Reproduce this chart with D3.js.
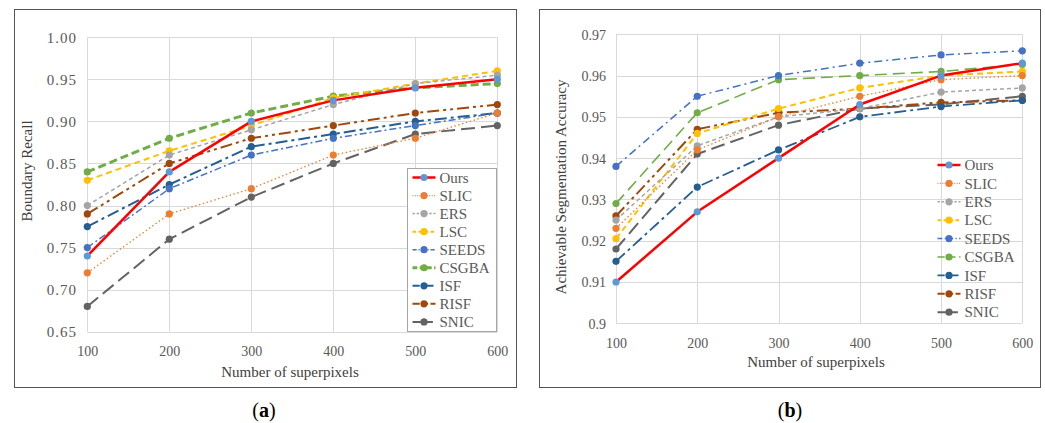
<!DOCTYPE html>
<html><head><meta charset="utf-8">
<script src="https://cdn.jsdelivr.net/npm/d3@7"></script>
<style>
body{margin:0;background:#fff;}
text{font-family:"Liberation Serif","Times New Roman",serif;}
</style></head>
<body>
<svg id="c" width="1045" height="423"></svg>
<script>
const xValues = [100, 200, 300, 400, 500, 600];
const seriesNames = ["Ours","SLIC","ERS","LSC","SEEDS","CSGBA","ISF","RISF","SNIC"];
const leftTicks = [0.65,0.70,0.75,0.80,0.85,0.90,0.95,1.00];
const rightTicks = [0.90,0.91,0.92,0.93,0.94,0.95,0.96,0.97];
const rightTickLabels = ["0.9","0.91","0.92","0.93","0.94","0.95","0.96","0.97"];

// (a) Boundary Recall
const brOurs  = [0.740,0.840,0.900,0.925,0.940,0.950];
const brSLIC  = [0.720,0.790,0.820,0.860,0.880,0.910];
const brERS   = [0.800,0.860,0.890,0.920,0.945,0.955];
const brLSC   = [0.830,0.865,0.895,0.928,0.945,0.960];
const brSEEDS = [0.750,0.820,0.860,0.880,0.895,0.910];
const brCSGBA = [0.840,0.880,0.910,0.930,0.940,0.945];
const brISF   = [0.775,0.825,0.870,0.885,0.900,0.910];
const brRISF  = [0.790,0.850,0.880,0.895,0.910,0.920];
const brSNIC  = [0.680,0.760,0.810,0.850,0.885,0.895];

// (b) Achievable Segmentation Accuracy
const asaOurs  = [0.910,0.927,0.940,0.953,0.960,0.963];
const asaSLIC  = [0.923,0.942,0.950,0.955,0.959,0.960];
const asaERS   = [0.925,0.943,0.950,0.952,0.956,0.957];
const asaLSC   = [0.9205,0.946,0.952,0.957,0.960,0.961];
const asaSEEDS = [0.938,0.955,0.960,0.963,0.965,0.966];
const asaCSGBA = [0.929,0.951,0.959,0.960,0.961,0.9627];
const asaISF   = [0.915,0.933,0.942,0.950,0.9525,0.954];
const asaRISF  = [0.926,0.947,0.951,0.952,0.9535,0.954];
const asaSNIC  = [0.918,0.941,0.948,0.952,0.953,0.955];

const lineColors = ["#FF0000","#ED7D31","#A5A5A5","#FFC000","#4472C4","#70AD47","#255E91","#9E480E","#636363"];
const markerColors = ["#5B9BD5","#ED7D31","#A5A5A5","#FFC000","#4472C4","#70AD47","#255E91","#9E480E","#636363"];
const widthsA = [2.5,1.3,1.5,2,1.5,3,2,2,2];
const dashesA = ["", "1.5,2.5", "4,3", "6,4", "7,3,2,3", "8,4", "12,4,3,4", "12,4,3,4,3,4", "14,6"];
const widthsB = [2.5,1.3,1.5,2,1.5,1.6,1.8,2,2];
const dashesB = ["", "1.5,2.5", "4,3", "6,4", "8,4,2,4", "12,6", "12,4,3,4", "12,4,3,4,3,4", "14,6"];

const svg = d3.select("#c");

function drawPanel(o) {
  const g = svg.append("g");
  // frame
  g.append("rect").attr("x", o.frame[0]+0.5).attr("y", o.frame[1]+0.5)
    .attr("width", o.frame[2]-o.frame[0]).attr("height", o.frame[3]-o.frame[1])
    .attr("fill","#fff").attr("stroke","#555").attr("stroke-width",1);
  const x = d3.scalePoint().domain(xValues).range([o.plot[0], o.plot[2]]);
  const y = d3.scaleLinear().domain(o.domain).range([o.plot[3], o.plot[1]]);
  // grid
  g.append("g").selectAll("line.h").data(o.ticks).join("line")
    .attr("x1", o.plot[0]).attr("x2", o.plot[2])
    .attr("y1", d=>Math.round(y(d))+0.5).attr("y2", d=>Math.round(y(d))+0.5)
    .attr("stroke","#D9D9D9").attr("stroke-width",1);
  g.append("g").selectAll("line.v").data(xValues).join("line")
    .attr("x1", d=>Math.round(x(d))+0.5).attr("x2", d=>Math.round(x(d))+0.5)
    .attr("y1", o.plot[1]).attr("y2", o.plot[3])
    .attr("stroke","#D9D9D9").attr("stroke-width",1);
  // axes labels via d3 axes (domain hidden)
  const ya = d3.axisLeft(y).tickValues(o.ticks).tickSize(0).tickPadding(0).tickFormat((d,i)=>o.tickLabels[i]);
  const yg = g.append("g").attr("transform",`translate(${o.yLabelX},0)`).call(ya);
  yg.select(".domain").remove();
  yg.selectAll("text").attr("font-family","Liberation Serif").attr("font-size",o.yFont)
    .attr("fill","#595959").attr("letter-spacing",o.ySpacing).attr("dy","0.35em");
  const xa = d3.axisBottom(x).tickSize(0).tickPadding(0);
  const xg = g.append("g").attr("transform",`translate(0,${o.xLabelY})`).call(xa);
  xg.select(".domain").remove();
  xg.selectAll("text").attr("font-family","Liberation Serif").attr("font-size",14)
    .attr("fill","#595959").attr("dy","0");
  // axis titles
  g.append("text").attr("x", o.xTitle[0]).attr("y", o.xTitle[1]).attr("text-anchor","middle")
    .attr("font-size",15).attr("fill","#404040").text("Number of superpixels");
  g.append("text").attr("transform",`translate(${o.yTitle[0]},${o.yTitle[1]}) rotate(-90)`)
    .attr("text-anchor","middle").attr("font-size",15).attr("fill","#404040").text(o.yTitleText);
  // legend box
  if (o.legendBox) {
    g.append("rect").attr("x",o.legendBox[0]+0.5).attr("y",o.legendBox[1]+0.5)
      .attr("width",o.legendBox[2]).attr("height",o.legendBox[3])
      .attr("fill","#fff").attr("stroke","#A6A6A6").attr("stroke-width",1);
  }
  // lines
  const line = d3.line().x((d,i)=>x(xValues[i])).y(d=>y(d));
  const order = [8,7,6,5,4,3,2,1,0];
  order.forEach(k=>{
    const s = o.series[k];
    g.append("path").datum(s).attr("d", line).attr("fill","none")
      .attr("stroke", lineColors[k]).attr("stroke-width", o.widths[k])
      .attr("stroke-dasharray", o.dashes[k] || null).attr("stroke-linejoin","round");
    g.append("g").selectAll("circle").data(s).join("circle")
      .attr("cx",(d,i)=>x(xValues[i])).attr("cy",d=>y(d)).attr("r",3.6)
      .attr("fill", markerColors[k]);
  });
  // legend
  seriesNames.forEach((name,k)=>{
    const ly = o.legend[1] + k*o.legend[2];
    const lx = o.legend[0];
    g.append("line").attr("x1",lx).attr("x2",lx+23).attr("y1",ly).attr("y2",ly)
      .attr("stroke",lineColors[k]).attr("stroke-width",o.widths[k])
      .attr("stroke-dasharray",o.dashes[k] ? o.dashes[k].split(",").map(v=>v*0.6).join(",") : null);
    g.append("circle").attr("cx",lx+11.5).attr("cy",ly).attr("r",3.6).attr("fill",markerColors[k]);
    g.append("text").attr("x",lx+27).attr("y",ly).attr("dy","0.35em")
      .attr("font-size",15).attr("fill","#595959").text(name);
  });
}

drawPanel({
  frame:[14,9,516,387],
  plot:[87.3,37.3,497.3,331.7],
  domain:[0.65,1.00], ticks:leftTicks,
  tickLabels:leftTicks.map(d=>d.toFixed(2)),
  yLabelX:77, yFont:15, ySpacing:1,
  xLabelY:356,
  xTitle:[290,377], yTitle:[32,171], yTitleText:"Boundary Recall",
  legendBox:[407,168,89,163],
  legend:[412.5,177.5,18.05],
  series:[brOurs,brSLIC,brERS,brLSC,brSEEDS,brCSGBA,brISF,brRISF,brSNIC],
  widths:widthsA, dashes:dashesA
});

drawPanel({
  frame:[539,9,1040,387],
  plot:[616,34.3,1022.3,323.3],
  domain:[0.90,0.97], ticks:rightTicks,
  tickLabels:rightTickLabels,
  yLabelX:606, yFont:14, ySpacing:0,
  xLabelY:348,
  xTitle:[816,367], yTitle:[566,187], yTitleText:"Achievable Segmentation Accuracy",
  legendBox:null,
  legend:[937.5,165,18.4],
  series:[asaOurs,asaSLIC,asaERS,asaLSC,asaSEEDS,asaCSGBA,asaISF,asaRISF,asaSNIC],
  widths:widthsB, dashes:dashesB
});

// panel captions
[["a",264],["b",790]].forEach(([l,cx])=>{
  const t = svg.append("text").attr("x",cx).attr("y",417).attr("text-anchor","middle")
    .attr("font-size",20).attr("fill","#000");
  t.append("tspan").text("(");
  t.append("tspan").attr("font-weight","bold").text(l);
  t.append("tspan").text(")");
});
</script>
</body></html>
